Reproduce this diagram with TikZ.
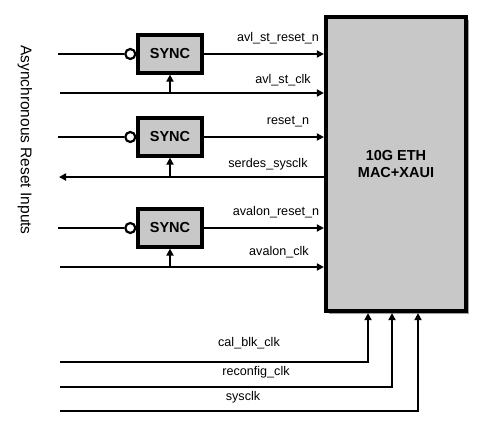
\documentclass[tikz,border=0pt]{standalone}
\usepackage{fontspec}
\setmainfont{Liberation Sans}
\usetikzlibrary{arrows.meta,shadows}
\definecolor{boxgray}{RGB}{200,200,200}
\definecolor{shadowgray}{RGB}{160,160,160}
\begin{document}
\begin{tikzpicture}[x=1pt,y=-1pt,
  wire/.style={line width=2.6pt},
  arr/.style={wire,-{Triangle[length=7pt,width=7pt]}},
  clkarr/.style={line width=2.2pt,-{Triangle[length=7pt,width=7pt]}},
  syncbox/.style={draw,line width=3.2pt,fill=boxgray,minimum width=64pt,minimum height=38pt,
    font=\fontsize{14.5}{16}\selectfont\bfseries,
    drop shadow={shadow xshift=2pt,shadow yshift=-2pt,fill=shadowgray,opacity=1}},
  bigbox/.style={draw,line width=4.2pt,fill=boxgray,minimum width=140pt,minimum height=294pt,
    font=\fontsize{14.5}{17}\selectfont\bfseries,align=center,
    drop shadow={shadow xshift=3pt,shadow yshift=-3pt,fill=shadowgray,opacity=1}},
  bubble/.style={draw,circle,line width=2.2pt,fill=white,minimum size=10pt,inner sep=0pt},
  lbl/.style={font=\fontsize{12.6}{14}\selectfont,inner sep=0pt}
]
\useasboundingbox (0,0) rectangle (494,431);
\fill[white] (0,0) rectangle (494,431);

\node[bigbox] (mac) at (396,164) {10G ETH\\MAC+XAUI};

\node[syncbox] (s1) at (170,54) {SYNC};
\node[syncbox] (s2) at (170,137) {SYNC};
\node[syncbox] (s3) at (170,228) {SYNC};

\node[bubble,anchor=east] (b1) at (s1.west) {};
\node[bubble,anchor=east] (b2) at (s2.west) {};
\node[bubble,anchor=east] (b3) at (s3.west) {};

\coordinate (i1) at (58,54);
\coordinate (i2) at (58,137);
\coordinate (i3) at (58,228);
\coordinate (c1) at (60,93);
\coordinate (c2) at (59,177);
\coordinate (c3) at (60,267);
\coordinate (k1) at (60,362);
\coordinate (k2) at (60,387);
\coordinate (k3) at (60,411);

% reset inputs
\draw[wire] (i1) -- (b1);
\draw[wire] (i2) -- (b2);
\draw[wire] (i3) -- (b3);

% sync outputs
\draw[arr] (s1) -- (s1 -| mac.west);
\draw[arr] (s2) -- (s2 -| mac.west);
\draw[arr] (s3) -- (s3 -| mac.west);

% clocks
\draw[arr] (c1) -- (c1 -| mac.west);
\draw[arr] (c2 -| mac.west) -- (c2);
\draw[arr] (c3) -- (c3 -| mac.west);

\draw[clkarr] (c1 -| s1.south) -- (s1.south);
\draw[clkarr] (c2 -| s2.south) -- (s2.south);
\draw[clkarr] (c3 -| s3.south) -- (s3.south);

% bottom clocks
\draw[clkarr,line join=miter] (k1) -| ([xshift=-28pt]mac.south);
\draw[clkarr,line join=miter] (k2) -| ([xshift=-4pt]mac.south);
\draw[clkarr,line join=miter] (k3) -| ([xshift=22pt]mac.south);

% labels
\node[lbl] (l1) at (278,38) {avl\_st\_reset\_n};
\node[lbl] (l2) at (283,80) {avl\_st\_clk};
\node[lbl] (l3) at (288,122) {reset\_n};
\node[lbl] (l4) at (268,164) {serdes\_sysclk};
\node[lbl] (l5) at (276,212) {avalon\_reset\_n};
\node[lbl] (l6) at (279,252) {avalon\_clk};
\node[lbl] (l7) at (249,343) {cal\_blk\_clk};
\node[lbl] (l8) at (256,372) {reconfig\_clk};
\node[lbl] (l9) at (243,397) {sysclk};

\node[rotate=-90,font=\fontsize{15.5}{18}\selectfont,inner sep=0pt] (async) at (25,140) {Asynchronous Reset Inputs};
\end{tikzpicture}
\end{document}
